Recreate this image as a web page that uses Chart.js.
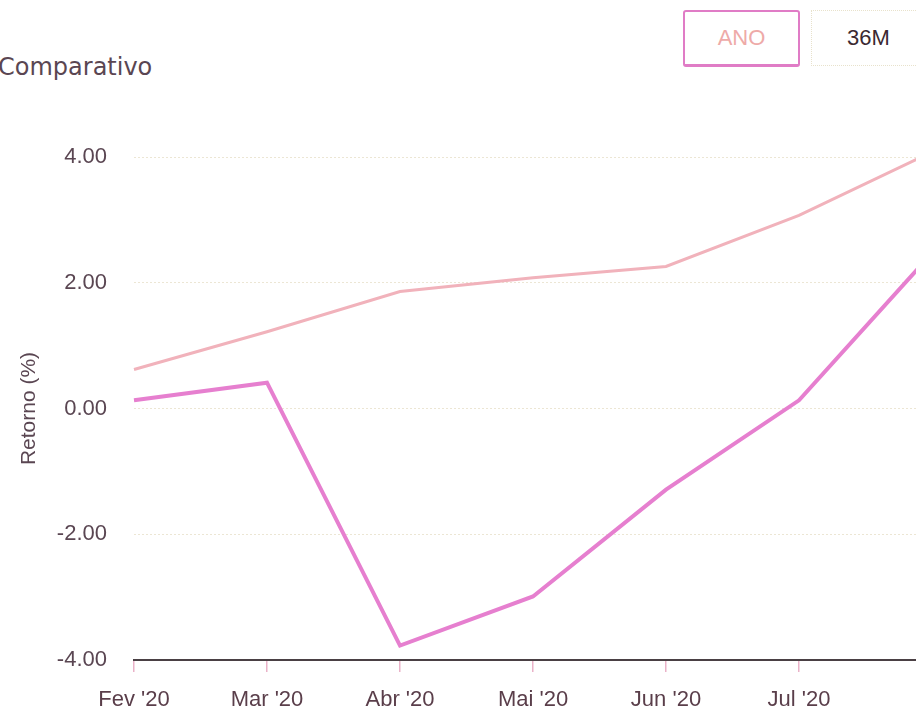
<!DOCTYPE html>
<html>
<head>
<meta charset="utf-8">
<script src="https://cdn.jsdelivr.net/npm/chart.js@4"></script>
<style>
  html, body { margin: 0; padding: 0; background: #fff; }
  body { width: 916px; height: 712px; overflow: hidden; position: relative; }
  .titulo { position: absolute; left: -2px; top: 53px; font: 24px "DejaVu Sans", sans-serif; color: #5a4652; line-height: 28px; }
  .btn { position: absolute; top: 10px; height: 57px; box-sizing: border-box; font: 22px "Liberation Sans", sans-serif;
         display: flex; align-items: center; justify-content: center; }
  .ano { left: 683px; width: 117px; border: 2px solid #e07cc6; border-bottom-width: 3px; border-radius: 3px; color: #eeaaa8; }
  .m36 { left: 811px; width: 115px; height: 56px; border: 1px dotted #e8e2cc; color: #3b2a32; }
  .wrap { position: absolute; left: 0; top: 100px; width: 960px; height: 612px; }
</style>
</head>
<body>
<div class="titulo">Comparativo</div>
<div class="btn ano">ANO</div>
<div class="btn m36">36M</div>
<div class="wrap"><canvas id="grafico"></canvas></div>
<script>
// meses do eixo x
const meses = ["Fev '20", "Mar '20", "Abr '20", "Mai '20", "Jun '20", "Jul '20", "Ago '20"];
// retorno do fundo (%)
const fundo = [0.13, 0.41, -3.77, -2.99, -1.29, 0.13, 2.47];
// retorno do benchmark (%)
const benchmark = [0.62, 1.22, 1.86, 2.08, 2.26, 3.07, 4.08];
// ticks do eixo y
const ticksY = [4, 2, 0, -2, -4];

const ctx = document.getElementById('grafico').getContext('2d');
const grafico = new Chart(ctx, {
    type: 'line',
    data: {
        labels: meses,
        datasets: [{
            label: 'Fundo',
            data: fundo,
            borderColor: '#e67fcf',
            borderWidth: 4,
            pointRadius: 0,
            tension: 0
        }, {
            label: 'Benchmark',
            data: benchmark,
            borderColor: '#f1b2bb',
            borderWidth: 3,
            pointRadius: 0,
            tension: 0
        }]
    },
    options: {
        responsive: true,
        maintainAspectRatio: false,
        animation: false,
        layout: {
            padding: { top: 57, right: 28, left: 0, bottom: 0 }
        },
        plugins: {
            legend: { display: false },
            tooltip: { enabled: false }
        },
        scales: {
            x: {
                grid: {
                    drawOnChartArea: false,
                    drawTicks: true,
                    tickLength: 12,
                    color: '#eab2c8',
                    lineWidth: 1.5
                },
                border: { display: true, color: '#4a4044', width: 2 },
                ticks: {
                    color: '#5a3e4a',
                    padding: 15,
                    maxRotation: 0,
                    autoSkip: false,
                    font: { family: 'Liberation Sans', size: 22 },
                    // o ultimo mes fica cortado na imagem
                    callback: function (v, i) { return i === meses.length - 1 ? '' : meses[i]; }
                },
                afterFit: function (scale) { scale.height = 52; }
            },
            y: {
                min: -4,
                max: 4,
                afterBuildTicks: function (scale) {
                    scale.ticks = ticksY.map(v => ({ value: v }));
                },
                grid: {
                    color: '#ece6d4',
                    lineWidth: 1,
                    drawTicks: false
                },
                border: { display: false, dash: [2, 2] },
                ticks: {
                    color: '#5a4652',
                    padding: 27,
                    font: { family: 'Liberation Sans', size: 22 },
                    callback: v => v.toFixed(2)
                },
                title: {
                    display: true,
                    text: 'Retorno (%)',
                    color: '#5a4652',
                    padding: { top: 17, bottom: 0 },
                    font: { family: 'Liberation Sans', size: 21 }
                },
                afterFit: function (scale) { scale.width = 134; }
            }
        }
    }
});
</script>
</body>
</html>
